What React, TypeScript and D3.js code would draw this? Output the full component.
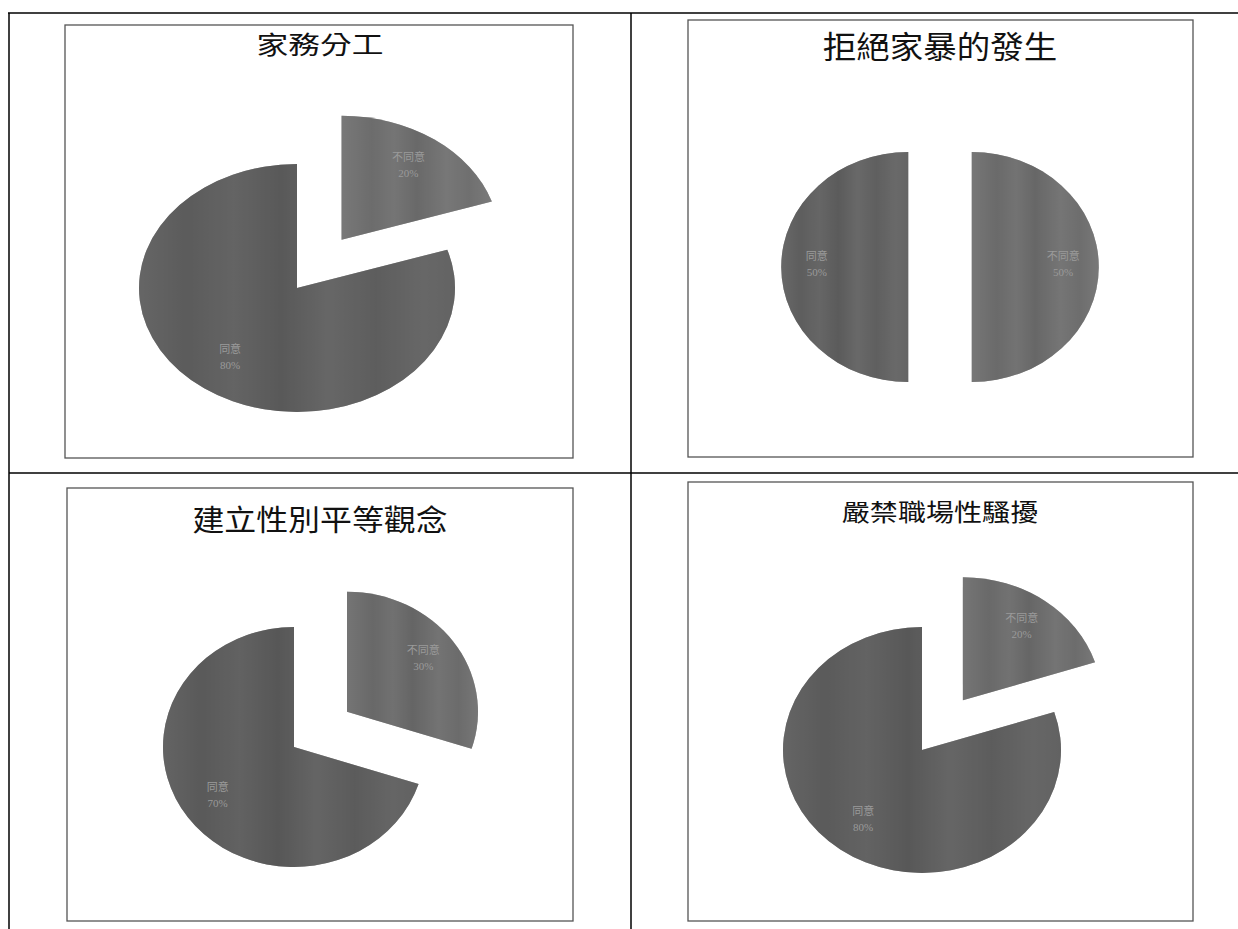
import React from "react";
import * as d3 from "d3";

// ---- data ----
const chartTitles = ["家務分工", "拒絕家暴的發生", "建立性別平等觀念", "嚴禁職場性騷擾"];
const houseworkLabels = ["不同意", "同意"];
const houseworkValues = [20, 80];
const violenceLabels = ["不同意", "同意"];
const violenceValues = [50, 50];
const equalityLabels = ["不同意", "同意"];
const equalityValues = [30, 70];
const harassmentLabels = ["不同意", "同意"];
const harassmentValues = [20, 80];

const seriesLabels = [houseworkLabels, violenceLabels, equalityLabels, harassmentLabels];
const seriesValues = [houseworkValues, violenceValues, equalityValues, harassmentValues];

// ---- layout (positions/styles) ----
const layouts = [
  { box: [65, 25, 508, 433], title: { cx: 320, cy: 43, fs: 25, sx: 1.27 }, pie: { cx: 297, cy: 288, rx: 158, ry: 124 }, explode: [0.48, 0], fills: ["#7a7a7a", "#636363"] },
  { box: [688, 20, 505, 437], title: { cx: 940, cy: 45, fs: 31, sx: 1.08 }, pie: { cx: 940, cy: 267, rx: 127, ry: 115 }, explode: [0.25, 0.25], fills: ["#767676", "#666666"] },
  { box: [67, 488, 506, 433], title: { cx: 320, cy: 519, fs: 29, sx: 1.1 }, pie: { cx: 294, cy: 747, rx: 131, ry: 120 }, explode: [0.5, 0], fills: ["#727272", "#5f5f5f"] },
  { box: [688, 482, 505, 439], title: { cx: 940, cy: 511, fs: 24, sx: 1.17 }, pie: { cx: 922, cy: 750, rx: 139, ry: 123 }, explode: [0.5, 0], fills: ["#747474", "#616161"] },
];

const FONT = "'Noto Sans CJK TC', 'Noto Sans CJK SC', sans-serif";

function PieChart({ idx }: { idx: number }) {
  const L = layouts[idx];
  const labels = seriesLabels[idx];
  const values = seriesValues[idx];
  const data = values.map((v, i) => ({ label: labels[i], value: v, i }));
  const pie = d3.pie<any>().sort(null).value((d: any) => d.value).startAngle(0).endAngle(2 * Math.PI);
  const arcs = pie(data);
  const { cx, cy, rx, ry } = L.pie;
  const sx = rx / ry;
  const arcGen = d3.arc<any>().innerRadius(0).outerRadius(ry);
  const [bx, by, bw, bh] = L.box;
  return (
    <g>
      <rect x={bx} y={by} width={bw} height={bh} fill="#fff" stroke="#555" strokeWidth={1.3} />
      <text
        transform={`translate(${L.title.cx},${L.title.cy}) scale(${L.title.sx},1)`}
        textAnchor="middle"
        dominantBaseline="central"
        fontFamily={FONT}
        fontSize={L.title.fs}
        fill="#111"
      >
        {chartTitles[idx]}
      </text>
      {arcs.map((a, k) => {
        const mid = (a.startAngle + a.endAngle) / 2;
        const e = L.explode[k];
        const ox = Math.sin(mid) * e * rx;
        const oy = -Math.cos(mid) * e * ry;
        const lr = 0.72;
        const lx = cx + ox + Math.sin(mid) * lr * rx;
        const ly = cy + oy - Math.cos(mid) * lr * ry;
        return (
          <g key={k}>
            <g transform={`translate(${cx + ox},${cy + oy}) scale(${sx},1)`}>
              <path d={arcGen(a) as string} fill={`url(#streak${k})`} />
              <path d={arcGen(a) as string} fill={L.fills[k]} opacity={0.55} />
            </g>
            <text x={lx} y={ly - 7} textAnchor="middle" fontFamily={FONT} fontSize={11} fill="#9a9a9a">
              {a.data.label}
            </text>
            <text x={lx} y={ly + 9} textAnchor="middle" fontFamily="'Liberation Serif', serif" fontSize={11} fill="#9a9a9a">
              {a.data.value}%
            </text>
          </g>
        );
      })}
    </g>
  );
}

export default function App() {
  return (
    <svg
      width={1238}
      height={929}
      style={{ position: "absolute", left: 0, top: 0, background: "#fff" }}
    >
      <defs>
        <linearGradient id="streak0" x1="0" x2="1" y1="0" y2="0">
          <stop offset="0" stopColor="#777" />
          <stop offset="0.2" stopColor="#5c5c5c" />
          <stop offset="0.35" stopColor="#6f6f6f" />
          <stop offset="0.5" stopColor="#555" />
          <stop offset="0.7" stopColor="#747474" />
          <stop offset="0.85" stopColor="#636363" />
          <stop offset="1" stopColor="#7c7c7c" />
        </linearGradient>
        <linearGradient id="streak1" x1="0" x2="1" y1="0" y2="0">
          <stop offset="0" stopColor="#6a6a6a" />
          <stop offset="0.15" stopColor="#545454" />
          <stop offset="0.3" stopColor="#666" />
          <stop offset="0.45" stopColor="#4e4e4e" />
          <stop offset="0.6" stopColor="#6c6c6c" />
          <stop offset="0.75" stopColor="#585858" />
          <stop offset="0.9" stopColor="#6e6e6e" />
          <stop offset="1" stopColor="#646464" />
        </linearGradient>
      </defs>
      {/* table grid */}
      <line x1={8} y1={13} x2={1238} y2={13} stroke="#000" strokeWidth={1.5} />
      <line x1={9} y1={13} x2={9} y2={929} stroke="#000" strokeWidth={1.5} />
      <line x1={631} y1={13} x2={631} y2={929} stroke="#000" strokeWidth={1.5} />
      <line x1={9} y1={473} x2={1238} y2={473} stroke="#000" strokeWidth={1.5} />
      {layouts.map((_, i) => (
        <PieChart key={i} idx={i} />
      ))}
    </svg>
  );
}
